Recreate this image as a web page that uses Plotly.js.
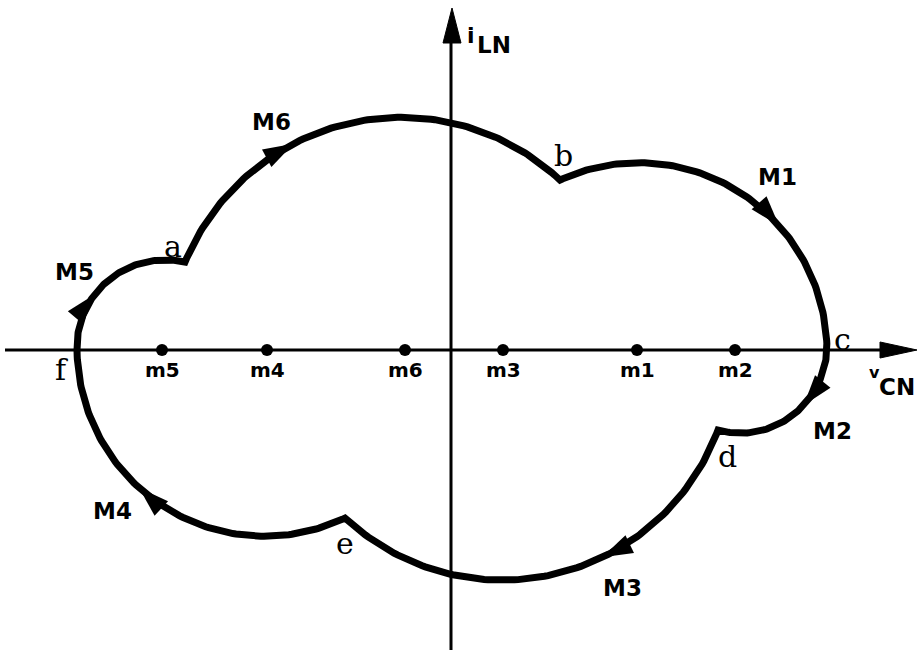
<!DOCTYPE html>
<html><head><meta charset="utf-8">
<script src="https://cdn.plot.ly/plotly-3.0.1.min.js"></script>
<style>html,body{margin:0;padding:0;background:#fff}</style>
</head><body><div id="chart" style="width:918px;height:653px"></div>
<script>
// ---- data (units of the phase plane) ----
// centres of the circular arcs, on the v_CN axis
const centerNames = ['m1', 'm2', 'm3', 'm4', 'm5', 'm6'];
const centerX = [1.86, 2.84, 0.52, -1.84, -2.89, -0.46];
// trajectory vertices
const vertexNames = ['a', 'b', 'c', 'd', 'e', 'f'];
const vertexX = [-2.66, 1.09, 3.76, 2.67, -1.06, -3.74];
const vertexY = [0.88, 1.70, 0.00, -0.80, -1.68, 0.00];
// arcs of the trajectory (mode, centre, start vertex, end vertex)
const arcNames = ['M5', 'M6', 'M1', 'M2', 'M3', 'M4'];
const arcCenter = ['m5', 'm6', 'm1', 'm2', 'm3', 'm4'];
const arcStart = ['f', 'a', 'b', 'c', 'd', 'e'];
const arcEnd = ['a', 'b', 'c', 'd', 'e', 'f'];
// where the direction arrow sits along each arc (fraction of arc)
const arrowFrac = [0.38, 0.36, 0.64, 0.38, 0.39, 0.59];
// axis titles
const xAxisLabel = ['v', 'CN'];
const yAxisLabel = ['i', 'LN'];

// ---- layout configuration ----
const X_RANGE = [-4.51, 4.67], Y_RANGE = [-3.03, 3.50];
const arcLabelPos = {M5: [-3.77, 0.78], M6: [-1.80, 2.28], M1: [3.26, 1.73],
                     M2: [3.81, -0.81], M3: [1.71, -2.38], M4: [-3.39, -1.61]};
const vertexLabelShift = {a: [-12, 16], b: [3, 25], c: [15, 11], d: [9, -26], e: [0, -25], f: [-16, -19]};
const SANS = 'DejaVu Sans', SERIF = 'DejaVu Serif';

const idxC = n => centerNames.indexOf(n);
const idxV = n => vertexNames.indexOf(n);

const pathX = [], pathY = [];
const arrX = [], arrY = [], arrAng = [];
arcNames.forEach((name, k) => {
  const cx = centerX[idxC(arcCenter[k])], cy = 0;
  const s = idxV(arcStart[k]), e = idxV(arcEnd[k]);
  const r0 = Math.hypot(vertexX[s] - cx, vertexY[s] - cy);
  const r1 = Math.hypot(vertexX[e] - cx, vertexY[e] - cy);
  const t0 = Math.atan2(vertexY[s] - cy, vertexX[s] - cx);
  let t1 = Math.atan2(vertexY[e] - cy, vertexX[e] - cx);
  while (t1 >= t0) t1 -= 2 * Math.PI;   // clockwise travel
  const N = 120;
  for (let i = (k === 0 ? 0 : 1); i <= N; i++) {
    const u = i / N, th = t0 + u * (t1 - t0), r = r0 + u * (r1 - r0);
    pathX.push(cx + r * Math.cos(th)); pathY.push(cy + r * Math.sin(th));
  }
  const u = arrowFrac[k], th = t0 + u * (t1 - t0), r = r0 + u * (r1 - r0);
  arrX.push(cx + r * Math.cos(th)); arrY.push(cy + r * Math.sin(th));
  arrAng.push(180 - th * 180 / Math.PI);
});

const traces = [
  {x: pathX, y: pathY, mode: 'lines', line: {color: '#000', width: 7}, hoverinfo: 'skip'},
  {x: arrX, y: arrY, mode: 'markers', hoverinfo: 'skip',
   marker: {symbol: 'arrow', size: 32, angle: arrAng, color: '#000', line: {width: 0}}},
  {x: centerX, y: centerX.map(() => 0), mode: 'markers', hoverinfo: 'skip',
   marker: {symbol: 'circle', size: 12, color: '#000'}}
];

const ann = [];
const base = {showarrow: false, xref: 'x', yref: 'y'};
centerNames.forEach((n, i) => ann.push(Object.assign({}, base, {
  x: centerX[i], y: 0, yshift: -20, text: n,
  font: {family: SANS, size: 20, weight: 700, color: '#000'}})));
vertexNames.forEach((n, i) => ann.push(Object.assign({}, base, {
  x: vertexX[i], y: vertexY[i], xshift: vertexLabelShift[n][0], yshift: vertexLabelShift[n][1],
  text: n, font: {family: SERIF, size: 30, weight: 400, color: '#000'}})));
arcNames.forEach(n => ann.push(Object.assign({}, base, {
  x: arcLabelPos[n][0], y: arcLabelPos[n][1], text: n,
  font: {family: SANS, size: 23, weight: 700, color: '#000'}})));
// axis titles
ann.push(Object.assign({}, base, {x: 0.20, y: 3.15, text: yAxisLabel[0], font: {family: SANS, size: 22, weight: 700, color: '#000'}}));
ann.push(Object.assign({}, base, {x: 0.43, y: 3.05, text: yAxisLabel[1], font: {family: SANS, size: 23, weight: 700, color: '#000'}}));
ann.push(Object.assign({}, base, {x: 4.23, y: -0.22, text: xAxisLabel[0], font: {family: SANS, size: 16, weight: 700, color: '#000'}}));
ann.push(Object.assign({}, base, {x: 4.46, y: -0.37, text: xAxisLabel[1], font: {family: SANS, size: 23, weight: 700, color: '#000'}}));

const shapes = [
  {type: 'line', xref: 'x', yref: 'y', x0: X_RANGE[0] + 0.05, x1: 4.32, y0: 0, y1: 0, line: {color: '#000', width: 3}, layer: 'below'},
  {type: 'line', xref: 'x', yref: 'y', x0: 0, x1: 0, y0: Y_RANGE[0] + 0.03, y1: 3.10, line: {color: '#000', width: 3}, layer: 'below'},
  {type: 'path', xref: 'x', yref: 'y', path: 'M 4.66 0 L 4.29 0.08 L 4.29 -0.08 Z', fillcolor: '#000', line: {color: '#000', width: 1}},
  {type: 'path', xref: 'x', yref: 'y', path: 'M 0.01 3.42 L -0.08 3.07 L 0.10 3.07 Z', fillcolor: '#000', line: {color: '#000', width: 1}}
];

const hidden = {range: null, showgrid: false, zeroline: false, showticklabels: false, ticks: '', showline: false, fixedrange: true};
const layout = {
  width: 918, height: 653, margin: {l: 0, r: 0, t: 0, b: 0},
  paper_bgcolor: '#fff', plot_bgcolor: '#fff', showlegend: false, hovermode: false,
  xaxis: Object.assign({}, hidden, {range: X_RANGE}),
  yaxis: Object.assign({}, hidden, {range: Y_RANGE}),
  annotations: ann, shapes: shapes
};
Plotly.newPlot('chart', traces, layout, {staticPlot: true, displayModeBar: false});
</script></body></html>
